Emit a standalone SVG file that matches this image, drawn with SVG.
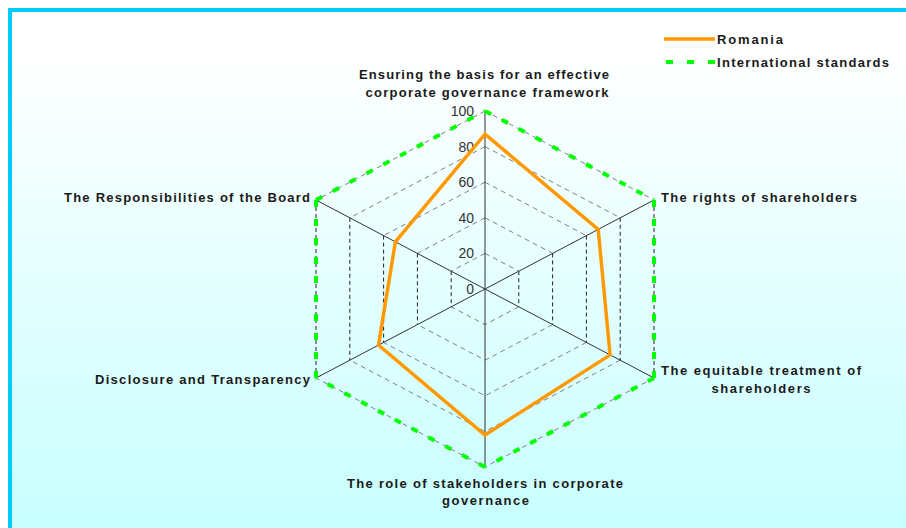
<svg xmlns="http://www.w3.org/2000/svg" width="906" height="528" viewBox="0 0 906 528">
<defs>
<linearGradient id="bg" x1="0" y1="0" x2="0" y2="1">
<stop offset="0" stop-color="#FFFFFF"/>
<stop offset="0.08" stop-color="#FFFFFF"/>
<stop offset="1" stop-color="#C8FFFF"/>
</linearGradient>
</defs>
<style>
.lbl{font-family:"Liberation Sans",Arial,sans-serif;font-size:13px;font-weight:bold;fill:#1a1a1a}
.tick{font-family:"Liberation Sans",Arial,sans-serif;font-size:14px;fill:#333333;text-anchor:end}
.gd{stroke:#808080;stroke-width:1;stroke-dasharray:5 4;fill:none}
.gv{stroke:#222222;stroke-width:1;stroke-dasharray:4 3;fill:none}
.ax{stroke:#333333;stroke-width:1;fill:none}
.intl{stroke:#00FF00;stroke-width:4;stroke-dasharray:7 12;fill:none}
.rom{stroke:#FF9900;stroke-width:3.5;fill:none;stroke-linejoin:miter}
</style>
<rect x="0" y="0" width="906" height="528" fill="#FFFFFF"/>
<rect x="10" y="10" width="896" height="518" fill="url(#bg)"/>
<g id="frame">
<line x1="8" y1="10" x2="906" y2="10" stroke="#00CCFF" stroke-width="4"/>
<line x1="10" y1="8" x2="10" y2="528" stroke="#00CCFF" stroke-width="4"/>
</g>
<g id="grid">
<!-- diagonal ring segments (gray) -->
<path class="gd" d="M485,253.4 L518.8,271.2 M485,253.4 L451.2,271.2 M518.8,306.8 L485,324.6 L451.2,306.8"/>
<path class="gd" d="M485,217.8 L552.6,253.4 M485,217.8 L417.4,253.4 M552.6,324.6 L485,360.2 L417.4,324.6"/>
<path class="gd" d="M485,182.2 L586.4,235.6 M485,182.2 L383.6,235.6 M586.4,342.4 L485,395.8 L383.6,342.4"/>
<path class="gd" d="M485,146.6 L620.2,217.8 M485,146.6 L349.8,217.8 M620.2,360.2 L485,431.4 L349.8,360.2"/>
<path class="gd" d="M485,111 L654,200 M485,111 L316,200 M654,378 L485,467 L316,378"/>
<!-- vertical ring segments (dark) -->
<path class="gv" d="M518.8,271.2 V306.8 M451.2,271.2 V306.8"/>
<path class="gv" d="M552.6,253.4 V324.6 M417.4,253.4 V324.6"/>
<path class="gv" d="M586.4,235.6 V342.4 M383.6,235.6 V342.4"/>
<path class="gv" d="M620.2,217.8 V360.2 M349.8,217.8 V360.2"/>
<path class="gv" d="M654,200 V378 M316,200 V378"/>
</g>
<g id="axes">
<line class="ax" x1="485" y1="289" x2="485" y2="111"/>
<line class="ax" x1="485" y1="289" x2="654" y2="200"/>
<line class="ax" x1="485" y1="289" x2="654" y2="378"/>
<line class="ax" x1="485" y1="289" x2="485" y2="467"/>
<line class="ax" x1="485" y1="289" x2="316" y2="378"/>
<line class="ax" x1="485" y1="289" x2="316" y2="200"/>
</g>
<g id="ticks">
<text class="tick" x="474" y="294">0</text>
<text class="tick" x="474" y="258.4">20</text>
<text class="tick" x="474" y="222.8">40</text>
<text class="tick" x="474" y="187.2">60</text>
<text class="tick" x="474" y="151.6">80</text>
<text class="tick" x="474" y="116">100</text>
</g>
<g id="series-international">
<line class="intl" x1="485" y1="111" x2="654" y2="200"/>
<line class="intl" x1="654" y1="200" x2="654" y2="378"/>
<line class="intl" x1="654" y1="378" x2="485" y2="467"/>
<line class="intl" x1="485" y1="467" x2="316" y2="378"/>
<line class="intl" x1="316" y1="378" x2="316" y2="200"/>
<line class="intl" x1="316" y1="200" x2="485" y2="111"/>
</g>
<g id="series-romania">
<polygon class="rom" points="485,134.1 598.2,229.4 610.1,354.9 485,435 378.5,345.1 395.4,241.8"/>
</g>
<g id="label-basis">
<text class="lbl" x="484" y="79" text-anchor="middle" textLength="250" lengthAdjust="spacing">Ensuring the basis for an effective</text>
<text class="lbl" x="487" y="97" text-anchor="middle" textLength="243" lengthAdjust="spacing">corporate governance framework</text>
</g>
<g id="label-rights">
<text class="lbl" x="661" y="202" textLength="196" lengthAdjust="spacing">The rights of shareholders</text>
</g>
<g id="label-equitable">
<text class="lbl" x="661" y="375" textLength="200" lengthAdjust="spacing">The equitable treatment of</text>
<text class="lbl" x="761" y="393" text-anchor="middle" textLength="99" lengthAdjust="spacing">shareholders</text>
</g>
<g id="label-stakeholders">
<text class="lbl" x="485" y="488" text-anchor="middle" textLength="276" lengthAdjust="spacing">The role of stakeholders in corporate</text>
<text class="lbl" x="485.5" y="505" text-anchor="middle" textLength="87" lengthAdjust="spacing">governance</text>
</g>
<g id="label-disclosure">
<text class="lbl" x="95" y="384" textLength="215" lengthAdjust="spacing">Disclosure and Transparency</text>
</g>
<g id="label-board">
<text class="lbl" x="64" y="202" textLength="246" lengthAdjust="spacing">The Responsibilities of the Board</text>
</g>
<g id="legend">
<line x1="664" y1="39" x2="715" y2="39" stroke="#FF9900" stroke-width="3.5"/>
<text class="lbl" x="717" y="44" textLength="66" lengthAdjust="spacing">Romania</text>
<line x1="666" y1="62" x2="715" y2="62" stroke="#00FF00" stroke-width="4" stroke-dasharray="7 14"/>
<text class="lbl" x="717" y="67" textLength="172" lengthAdjust="spacing">International standards</text>
</g>
</svg>
